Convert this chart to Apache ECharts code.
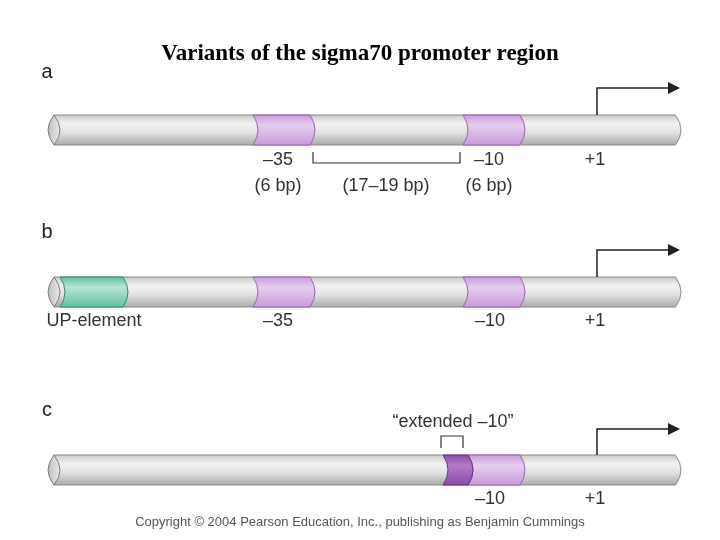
<!DOCTYPE html>
<html><head><meta charset="utf-8">
<script src="https://cdn.jsdelivr.net/npm/echarts@6/dist/echarts.min.js"></script>
<style>html,body{margin:0;background:#fff}#chart{width:720px;height:540px}</style>
</head><body><div id="chart"></div>
<script>
// layout units are the 720x540 picture itself
var rowY = [130, 292, 470];          // cylinder centre per row
var rowLetters = ['a', 'b', 'c'];
var letterY = [72, 232, 410];
var cylStart = 48, cylEnd = 680, cylHalf = 15;
// boxes: [row, start, end, kind]
var boxes = [
  [0, 253, 310, 'pur'], [0, 463, 520, 'pur'],
  [1, 60, 123, 'green'], [1, 253, 310, 'pur'], [1, 463, 520, 'pur'],
  [2, 468, 520, 'pur'], [2, 443, 468, 'dark']
];
var arrowX = 597, arrowEnd = 680;
var arrowTop = [88, 250, 429];
// labels: [x, y, text]
var labels = [
  [278, 160, '–35'], [278, 186, '(6 bp)'], [386, 186, '(17–19 bp)'],
  [489, 160, '–10'], [489, 186, '(6 bp)'], [595, 160, '+1'],
  [94, 321, 'UP-element'], [278, 321, '–35'], [490, 321, '–10'], [595, 321, '+1'],
  [453, 422, '“extended –10”'], [490, 499, '–10'], [595, 499, '+1']
];
// brackets: [x1, x2, yBase, yEnd]
var brackets = [[313, 460, 163, 152], [441, 463, 436, 448]];

var colors = {
  pur: ['#e6cdef', '#c79ad8', '#9a5fb0'],
  green: ['#b8e4d4', '#5fbf9f', '#2e8a6c'],
  dark: ['#b07cc6', '#8a4aa6', '#6a2d86']
};
function grad(c) {
  return {type: 'linear', x: 0, y: 0, x2: 0, y2: 1, colorStops: [
    {offset: 0, color: c[1]}, {offset: 0.35, color: c[0]}, {offset: 1, color: c[1]}]};
}
var chart = echarts.init(document.getElementById('chart'));
function P(api, x, y) { return api.coord([x, y]); }
chart.setOption({
  animation: false,
  title: {text: 'Variants of the sigma70 promoter region', left: 'center', top: 38,
    textStyle: {fontFamily: 'Liberation Serif', fontWeight: 'bold', fontSize: 23, color: '#000'}},
  grid: {left: 0, right: 0, top: 0, bottom: 0},
  xAxis: {type: 'value', min: 0, max: 720, show: false},
  yAxis: {type: 'value', min: 0, max: 540, inverse: true, show: false},
  series: [
    {type: 'custom', data: rowY.map(function (y, i) { return [i, y]; }),
      renderItem: function (p, api) {
        var y = api.value(1), t = y - cylHalf, b = y + cylHalf;
        var a = P(api, cylStart, t), c = P(api, cylEnd, b);
        var x0 = a[0], x1 = c[0], top = a[1], bot = c[1], mid = (top + bot) / 2;
        var body = 'M' + (x0 + 6) + ' ' + top + 'L' + (x1 - 6) + ' ' + top + 'Q' + (x1 + 5) + ' ' + mid + ' ' + (x1 - 6) + ' ' + bot + 'L' + (x0 + 6) + ' ' + bot + 'Z';
        var ax = arrowX, at = arrowTop[api.value(0)];
        var q = P(api, ax, at), e = P(api, arrowEnd, at);
        return {type: 'group', children: [
          {type: 'path', shape: {pathData: body, layout: 'cover', x: x0 + 6, y: top, width: x1 - x0 - 5, height: bot - top},
            style: {fill: {type: 'linear', x: 0, y: 0, x2: 0, y2: 1, colorStops: [
              {offset: 0, color: '#c8c8c8'}, {offset: 0.3, color: '#f2f2f2'}, {offset: 0.6, color: '#e0e0e0'}, {offset: 1, color: '#a8a8a8'}]},
              stroke: '#8a8a8a', lineWidth: 1}},
          {type: 'path', shape: {pathData: 'M' + (x0 + 6) + ' ' + top + 'Q' + (x0 - 6) + ' ' + mid + ' ' + (x0 + 6) + ' ' + bot + 'Q' + (x0 + 18) + ' ' + mid + ' ' + (x0 + 6) + ' ' + top + 'Z'},
            style: {fill: {type: 'linear', x: 0, y: 0, x2: 1, y2: 0, colorStops: [{offset: 0, color: '#bdbdbd'}, {offset: 1, color: '#ececec'}]}, stroke: '#7a7a7a', lineWidth: 1}},
          {type: 'polyline', shape: {points: [[q[0], top], [q[0], q[1]], [e[0] - 10, q[1]]]}, style: {stroke: '#222', lineWidth: 1.5, fill: null}},
          {type: 'polygon', shape: {points: [[e[0] - 12, q[1] - 6], [e[0], q[1]], [e[0] - 12, q[1] + 6]]}, style: {fill: '#222'}}
        ]};
      }},
    {type: 'custom', data: boxes.map(function (b, i) { return [b[1], b[2], rowY[b[0]], i]; }),
      renderItem: function (p, api) {
        var a = P(api, api.value(0), api.value(2) - cylHalf), c = P(api, api.value(1), api.value(2) + cylHalf);
        var x1 = a[0], x2 = c[0], t = a[1], b = c[1], m = (t + b) / 2;
        var col = colors[boxes[api.value(3)][3]];
        var d = 'M' + x1 + ' ' + t + 'L' + x2 + ' ' + t + 'Q' + (x2 + 10) + ' ' + m + ' ' + x2 + ' ' + b + 'L' + x1 + ' ' + b + 'Q' + (x1 + 10) + ' ' + m + ' ' + x1 + ' ' + t + 'Z';
        return {type: 'path', shape: {pathData: d, layout: 'cover', x: x1, y: t, width: x2 - x1 + 5, height: b - t},
          style: {fill: grad(col), stroke: col[2], lineWidth: 1}};
      }},
    {type: 'custom', data: brackets,
      renderItem: function (p, api) {
        var a = P(api, api.value(0), api.value(3)), b = P(api, api.value(0), api.value(2)),
            c = P(api, api.value(1), api.value(2)), d = P(api, api.value(1), api.value(3));
        return {type: 'polyline', shape: {points: [a, b, c, d]}, style: {stroke: '#333', lineWidth: 1.2, fill: null}};
      }},
    {type: 'custom', data: labels,
      renderItem: function (p, api) {
        var q = P(api, api.value(0), api.value(1));
        return {type: 'text', x: q[0], y: q[1], style: {text: labels[p.dataIndex][2], align: 'center', verticalAlign: 'middle',
          font: '18px "Liberation Sans", Arial', fill: '#333'}};
      }},
    {type: 'custom', data: rowLetters.map(function (l, i) { return [47, letterY[i]]; }),
      renderItem: function (p, api) {
        var q = P(api, api.value(0), api.value(1));
        return {type: 'text', x: q[0], y: q[1], style: {text: rowLetters[p.dataIndex], align: 'center', verticalAlign: 'middle',
          font: '20px "Liberation Sans", Arial', fill: '#222'}};
      }}
  ],
  graphic: [{type: 'text', left: 'center', top: 516, style: {text: 'Copyright © 2004 Pearson Education, Inc., publishing as Benjamin Cummings',
    font: '13px "Liberation Sans", Arial', fill: '#555'}}]
});
</script></body></html>
